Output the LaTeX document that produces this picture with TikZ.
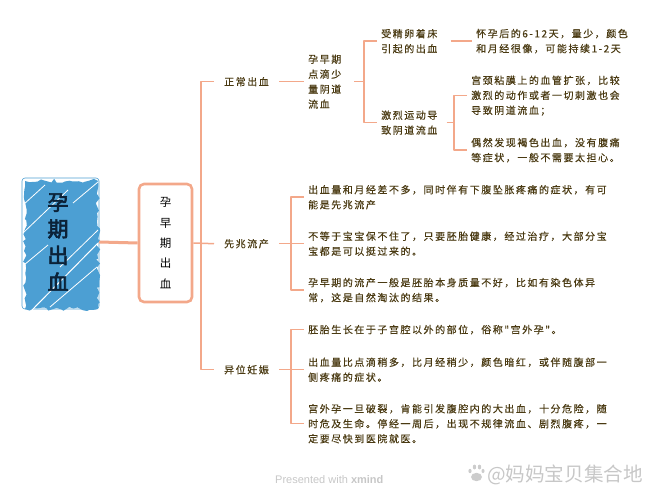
\documentclass[tikz,border=0pt]{standalone}
\usepackage{fontspec}
\usetikzlibrary{decorations.pathmorphing}
\setmainfont{Noto Sans CJK SC}
\newfontfamily\bodyfont[LetterSpace=15.4,FakeBold=0.35]{Noto Sans CJK SC}
\newfontfamily\rootfont[FakeBold=3]{Noto Sans CJK SC}
\newfontfamily\wmfont{Liberation Sans}
\definecolor{linkc}{HTML}{F3A88A}
\definecolor{txtc}{HTML}{4A3A12}
\definecolor{rootc}{HTML}{4C9FD3}
\definecolor{rootd}{HTML}{0B2238}
\tikzset{
  x=1pt,y=-1pt,
  link/.style={draw=linkc,line width=1.5pt,line join=round},
  txt/.style={anchor=west,align=left,text=txtc,inner xsep=4pt,inner ysep=0pt,font=\bodyfont\fontsize{10}{15}\selectfont},
  topic/.style={txt,inner xsep=10pt},
  stripe/.style={white,line width=.8pt},
}
\begin{document}
\begin{tikzpicture}
\useasboundingbox (0,0) rectangle (659,500);
% root
\draw[rootc,line width=.6pt,rounded corners=3pt] (22,178) rectangle (99,309);
\pgfmathsetseed{11}
\fill[rootc,decorate,decoration={random steps,segment length=4pt,amplitude=2.2pt}] (25,181) rectangle (98,309);
\draw[stripe] (23,205) -- (45,185);
\draw[stripe] (23,233) -- (68,190);
\draw[stripe] (24,265) -- (48,245);
\draw[stripe] (73,203) -- (98,182);
\draw[stripe] (60,267) -- (98,230);
\draw[stripe,line width=1pt] (32,310) -- (98,243);
\draw[stripe] (50,307) -- (97,267);
\node[inner sep=0pt,align=center,text=rootd,font=\rootfont\fontsize{21}{26.7}\selectfont] (root) at (58,242) {孕\\期\\出\\血};
\coordinate (rootr) at (99,242);
% centre
\node[draw=linkc,line width=2.6pt,rounded corners=5pt,minimum width=53pt,minimum height=118pt,inner sep=0pt,align=center,text=black,font=\fontsize{11.5}{20.3}\selectfont] (core) at (165.5,243) {孕\\早\\期\\出\\血};
\draw[linkc,line width=3pt] (rootr) -- (core.west);
\begin{scope}[yshift=-0.7pt]
% main topics
\node[topic] (a) at (214,81) {正常出血};
\node[topic] (b) at (214,243) {先兆流产};
\node[topic] (c) at (214,369) {异位妊娠};
\coordinate (trunk) at (201,243);
\draw[link] (a.west) -| (trunk) |- (c.west);
\draw[link] (core.east) -- (b.west);
% branch a
\node[txt] (a1) at (304,81) {孕早期\\点滴少\\量阴道\\流血};
\draw[link] (a.east) -- (a1.west);
\node[txt] (a11) at (377,40.5) {受精卵着床\\引起的出血};
\node[txt] (a12) at (377,122) {激烈运动导\\致阴道流血};
\coordinate (ja) at (364,81);
\draw[link] (a11.west) -| (ja) |- (a12.west);
\draw[link] ([xshift=9pt]a1.east) -- (ja);
\node[txt] (a111) at (472,40.5) {怀孕后的6-12天，量少，颜色\\和月经很像，可能持续1-2天};
\draw[link] ([xshift=9pt]a11.east) -- (a111.west);
\node[txt] (a121) at (467,95) {宫颈粘膜上的血管扩张，比较\\激烈的动作或者一切刺激也会\\导致阴道流血；};
\node[txt] (a122) at (467,149.5) {偶然发现褐色出血，没有腹痛\\等症状，一般不需要太担心。};
\coordinate (jb) at (454,122);
\draw[link] (a121.west) -| (jb) |- (a122.west);
\draw[link] ([xshift=5pt]a12.east) -- (jb);
% branch b
\node[txt] (b1) at (304,196.5) {出血量和月经差不多，同时伴有下腹坠胀疼痛的症状，有可\\能是先兆流产};
\node[txt] (b2) at (304,243) {不等于宝宝保不住了，只要胚胎健康，经过治疗，大部分宝\\宝都是可以挺过来的。};
\node[txt] (b3) at (304,289.5) {孕早期的流产一般是胚胎本身质量不好，比如有染色体异\\常，这是自然淘汰的结果。};
\coordinate (jc) at (291,243);
\draw[link] (b1.west) -| (jc) |- (b3.west);
\draw[link] (b.east) -- (b2.west);
% branch c
\node[txt] (c1) at (304,329) {胚胎生长在于子宫腔以外的部位，俗称"宫外孕"。};
\node[txt] (c2) at (304,369) {出血量比点滴稍多，比月经稍少，颜色暗红，或伴随腹部一\\侧疼痛的症状。};
\node[txt] (c3) at (304,423) {宫外孕一旦破裂，肯能引发腹腔内的大出血，十分危险，随\\时危及生命。停经一周后，出现不规律流血、剧烈腹疼，一\\定要尽快到医院就医。};
\coordinate (jd) at (291,369);
\draw[link] (c1.west) -| (jd) |- (c3.west);
\draw[link] (c.east) -- (c2.west);
\end{scope}
% footer
\node[anchor=west,inner sep=0pt,text=black!22,font=\wmfont\fontsize{11}{13}\selectfont] (pw) at (275,480) {Presented with \textbf{xmind}};
\node[anchor=west,inner sep=0pt,text=black!22,font=\fontsize{19.6}{22}\selectfont] (wm) at (487,475) {@妈妈宝贝集合地};
% paw mark of the watermark
\fill[black!20] (470,471) ellipse (1.6 and 2.2) (474.5,467) ellipse (1.7 and 2.4) (479.5,467) ellipse (1.7 and 2.4) (483,471) ellipse (1.5 and 2.1) (476.5,477) ellipse (5.5 and 4.2);
\end{tikzpicture}
\end{document}
